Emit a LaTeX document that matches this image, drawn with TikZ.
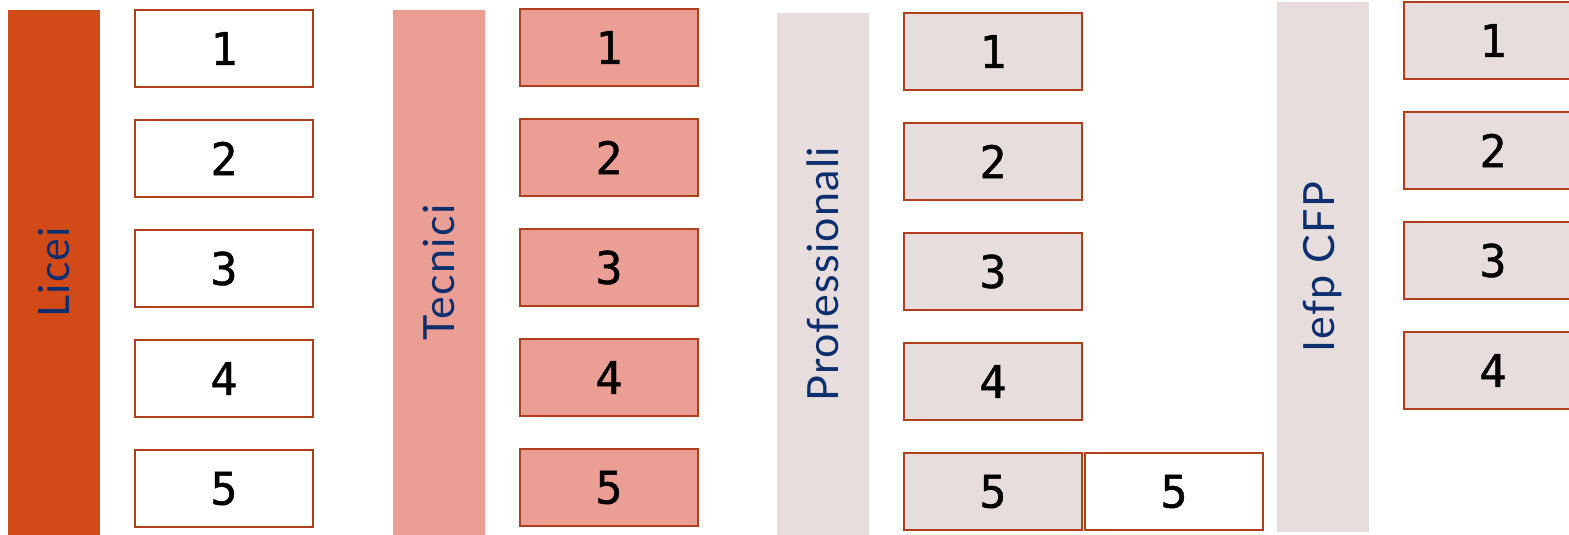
\documentclass[tikz,border=0pt]{standalone}
\usepackage{fontspec}
\newfontfamily\labelfont[LetterSpace=3]{Lato}
\newfontfamily\digitfont[FakeBold=1]{DejaVu Sans Mono}
\definecolor{liceibar}{HTML}{D14A17}
\definecolor{tecnicibar}{HTML}{EA9E94}
\definecolor{greybar}{HTML}{E8DDDD}
\definecolor{boxline}{HTML}{B0401C}
\definecolor{navytext}{HTML}{0E2F6E}
\begin{document}
\begin{tikzpicture}[x=1pt,y=-1pt,
  bar/.style={rectangle, draw=none, minimum width=92pt, inner sep=0pt},
  barlabel/.style={rotate=90, text=navytext, font=\labelfont\fontsize{43}{50}\selectfont, inner sep=0pt},
  yearbox/.style={rectangle, draw=boxline, line width=1.4pt, minimum width=178pt, minimum height=77pt, inner sep=0pt, font=\digitfont\fontsize{45}{50}\selectfont}
]
\useasboundingbox (0,0) rectangle (1569,535);
\clip (0,0) rectangle (1569,535);
% Column 1: Licei
\node[bar, fill=liceibar, minimum height=525pt] (b1) at (54,272.5) {};
\node[barlabel] (l1) at (b1.center) {Licei};
\foreach \i/\y in {1/48.5,2/158.5,3/268.5,4/378.5,5/488.5}
  \node[yearbox, fill=white] (a\i) at (224,\y) {\i};
% Column 2: Tecnici
\node[bar, fill=tecnicibar, minimum height=525pt] (b2) at (439,272.5) {};
\node[barlabel] (l2) at (b2.center) {Tecnici};
\foreach \i/\y in {1/47.5,2/157.5,3/267.5,4/377.5,5/487.5}
  \node[yearbox, fill=tecnicibar] (t\i) at (609,\y) {\i};
% Column 3: Professionali
\node[bar, fill=greybar, minimum height=522pt] (b3) at (823,274) {};
\node[barlabel] (l3) at (b3.center) {Professionali};
\foreach \i/\y in {1/51.5,2/161.5,3/271.5,4/381.5,5/491.5}
  \node[yearbox, fill=greybar] (p\i) at (993,\y) {\i};
\node[yearbox, fill=white] (p5b) at (1174,491.5) {5};
% Column 4: Iefp CFP
\node[bar, fill=greybar, minimum height=530pt] (b4) at (1323,267) {};
\node[barlabel] (l4) at (b4.center) {Iefp CFP};
\foreach \i/\y in {1/40.5,2/150.5,3/260.5,4/370.5}
  \node[yearbox, fill=greybar] (f\i) at (1493,\y) {\i};
\end{tikzpicture}
\end{document}
